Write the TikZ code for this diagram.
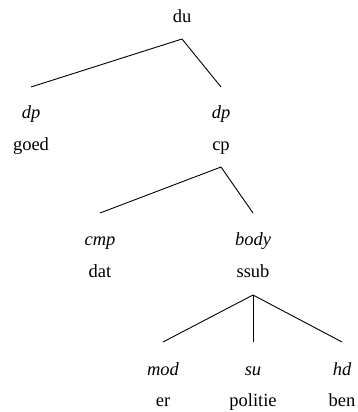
\documentclass[tikz,border=0pt]{standalone}
\usepackage{fontspec}
\setmainfont{Liberation Serif}
\newfontfamily\treefont{Liberation Serif}
\usetikzlibrary{calc}

\begin{document}
\begin{tikzpicture}
    [
        x=1pt, y=-1pt,
        every node/.style={font=\treefont\fontsize{18.5}{22}\selectfont, anchor=base, inner sep=0pt},
        rel/.style={font=\treefont\fontsize{18.5}{22}\selectfont\itshape},
        branch/.style={line width=0.9pt}
    ]
        \useasboundingbox (0,0) rectangle (358,412);

        % root
        \node (du) at (182,23) {du};

        % first level
        \node[rel] (dp1) at (31,118) {dp};
        \node (goed) at (31,150) {goed};
        \node[rel] (dp2) at (221,118) {dp};
        \node (cp) at (221,150) {cp};

        % second level
        \node[rel] (cmp) at (100,245) {cmp};
        \node (dat) at (100,277) {dat};
        \node[rel] (body) at (253,245) {body};
        \node (ssub) at (253,277) {ssub};

        % third level
        \node[rel] (mod) at (163,375) {mod};
        \node (er) at (163,406) {er};
        \node[rel] (su) at (253,375) {su};
        \node (politie) at (253,406) {politie};
        \node[rel] (hd) at (342,375) {hd};
        \node (ben) at (342,406) {ben};

        \draw[branch] ([yshift=-16pt]du.base) -- ([yshift=31pt]dp1.base);
        \draw[branch] ([yshift=-16pt]du.base) -- ([yshift=31pt]dp2.base);

        \draw[branch] ([yshift=-17pt]cp.base) -- ([yshift=32pt]cmp.base);
        \draw[branch] ([yshift=-17pt]cp.base) -- ([yshift=32pt]body.base);

        \draw[branch] ([yshift=-18pt]ssub.base) -- ([yshift=33pt]mod.base);
        \draw[branch] ([yshift=-18pt]ssub.base) -- ([yshift=33pt]su.base);
        \draw[branch] ([yshift=-18pt]ssub.base) -- ([yshift=33pt]hd.base);

    \end{tikzpicture}
\end{document}
